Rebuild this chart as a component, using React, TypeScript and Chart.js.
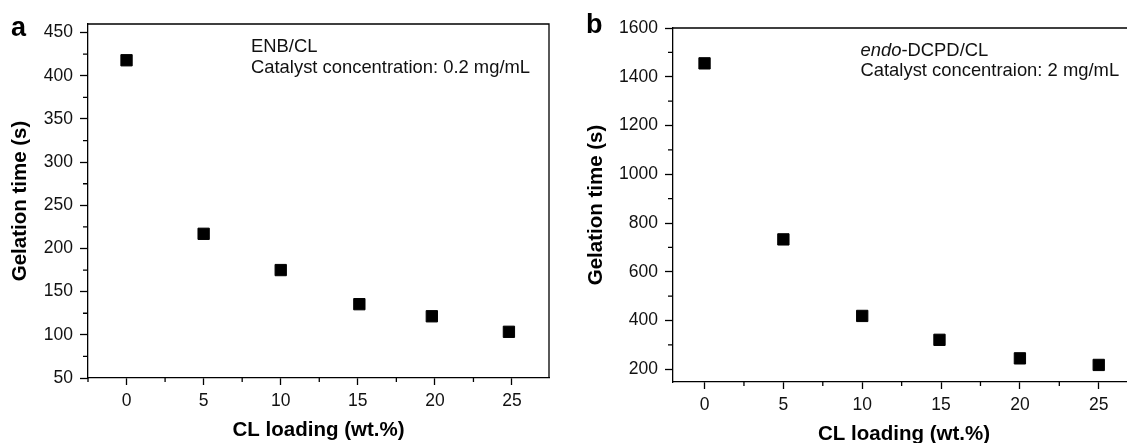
import React, { useEffect, useRef } from "react";
import { Chart, registerables } from "chart.js";
Chart.register(...registerables);

// ---------- data ----------
const loadingA = [0, 5, 10, 15.1, 19.8, 24.8];
const gelationA = [418, 217, 175, 135.5, 121.5, 103.5];
const loadingB = [0, 5, 10, 14.9, 20, 25];
const gelationB = [1455, 733, 419, 321, 245, 218];

const xMajorTicks = [0, 5, 10, 15, 20, 25];
const xMinorTicks = [-2.5, 2.5, 7.5, 12.5, 17.5, 22.5];
const yMajorTicksA = [50, 100, 150, 200, 250, 300, 350, 400, 450];
const yMinorTicksA = [75, 125, 175, 225, 275, 325, 375, 425];
const yMajorTicksB = [200, 400, 600, 800, 1000, 1200, 1400, 1600];
const yMinorTicksB = [300, 500, 700, 900, 1100, 1300, 1500];

const xTitle = "CL loading (wt.%)";
const yTitle = "Gelation time (s)";
const annotA1 = "ENB/CL";
const annotA2 = "Catalyst concentration: 0.2 mg/mL";
const annotB1Italic = "endo";
const annotB1 = "-DCPD/CL";
const annotB2 = "Catalyst concentraion: 2 mg/mL";

const FONT = "'Liberation Sans', Arial, Helvetica, sans-serif";
const INK = "#111";
const TICK_SIZE = 17.5;
const TITLE_SIZE = 20.5;
const ANNOT_SIZE = 18.4;

type PanelCfg = {
  width: number;
  height: number;
  xs: number[];
  ys: number[];
  xMin: number;
  xMax: number;
  yMin: number;
  yMax: number;
  yMajor: number[];
  yMinor: number[];
  yAxisWidth: number;
  xAxisHeight: number;
  padTop: number;
  padRight: number;
  yTitlePad: number;
  xTitlePad: number;
  label: string;
  labelX: number;
  labelY: number;
  drawAnnot: (ctx: CanvasRenderingContext2D, area: any) => void;
};

function makeChart(canvas: HTMLCanvasElement, cfg: PanelCfg) {
  const framePlugin = {
    id: "frameAndMinor",
    afterDraw(chart: any) {
      const ctx: CanvasRenderingContext2D = chart.ctx;
      const { left, right, top, bottom } = chart.chartArea;
      const xs = chart.scales.x;
      const ys = chart.scales.y;
      ctx.save();
      ctx.strokeStyle = "#000";
      ctx.lineWidth = 1.3;
      // frame top & right
      ctx.beginPath();
      ctx.moveTo(left, top);
      ctx.lineTo(right, top);
      ctx.lineTo(right, bottom);
      ctx.stroke();
      // minor ticks
      ctx.beginPath();
      for (const v of xMinorTicks) {
        if (v < cfg.xMin - 1e-6 || v > cfg.xMax + 1e-6) continue;
        const px = xs.getPixelForValue(v);
        ctx.moveTo(px, bottom);
        ctx.lineTo(px, bottom + 4);
      }
      for (const v of cfg.yMinor) {
        const py = ys.getPixelForValue(v);
        ctx.moveTo(left - 5, py);
        ctx.lineTo(left, py);
      }
      ctx.stroke();
      // panel label
      ctx.fillStyle = "#000";
      ctx.font = `bold 27px ${FONT}`;
      ctx.textBaseline = "alphabetic";
      ctx.textAlign = "left";
      ctx.fillText(cfg.label, cfg.labelX, cfg.labelY);
      // annotation
      cfg.drawAnnot(ctx, chart.chartArea);
      ctx.restore();
    },
  };

  return new Chart(canvas, {
    type: "scatter",
    data: {
      datasets: [
        {
          data: cfg.xs.map((x, i) => ({ x, y: cfg.ys[i] })),
          pointStyle: "rect",
          pointRadius: 8,
          backgroundColor: "#000",
          borderColor: "#000",
          borderWidth: 1,
          showLine: false,
        },
      ],
    },
    options: {
      responsive: false,
      animation: false,
      events: [],
      layout: { padding: { top: cfg.padTop, right: cfg.padRight, left: 0, bottom: 0 } },
      plugins: { legend: { display: false }, tooltip: { enabled: false } },
      scales: {
        x: {
          type: "linear",
          min: cfg.xMin,
          max: cfg.xMax,
          afterBuildTicks: (s: any) => {
            s.ticks = xMajorTicks.map((v) => ({ value: v }));
          },
          afterFit: (s: any) => {
            s.height = cfg.xAxisHeight;
          },
          ticks: {
            autoSkip: false,
            maxRotation: 0,
            padding: 6,
            color: INK,
            font: { family: FONT, size: TICK_SIZE },
            callback: (v: any) => `${v}`,
          },
          grid: {
            display: true,
            drawOnChartArea: false,
            drawTicks: true,
            tickLength: 7,
            tickColor: "#000",
            tickWidth: 1.3,
          },
          border: { display: true, color: "#000", width: 1.3 },
          title: {
            display: true,
            text: xTitle,
            color: "#000",
            font: { family: FONT, size: TITLE_SIZE, weight: "bold" },
            padding: { top: cfg.xTitlePad, bottom: 0 },
          },
        },
        y: {
          type: "linear",
          min: cfg.yMin,
          max: cfg.yMax,
          afterBuildTicks: (s: any) => {
            s.ticks = cfg.yMajor.map((v) => ({ value: v }));
          },
          afterFit: (s: any) => {
            s.width = cfg.yAxisWidth;
          },
          ticks: {
            autoSkip: false,
            padding: 7,
            color: INK,
            font: { family: FONT, size: TICK_SIZE },
            callback: (v: any) => `${v}`,
          },
          grid: {
            display: true,
            drawOnChartArea: false,
            drawTicks: true,
            tickLength: 8,
            tickColor: "#000",
            tickWidth: 1.3,
          },
          border: { display: true, color: "#000", width: 1.3 },
          title: {
            display: true,
            text: yTitle,
            color: "#000",
            font: { family: FONT, size: TITLE_SIZE, weight: "bold" },
            padding: { top: cfg.yTitlePad, bottom: 0 },
          },
        },
      },
    },
    plugins: [framePlugin],
  } as any);
}

const panelA: PanelCfg = {
  width: 560,
  height: 443,
  xs: loadingA,
  ys: gelationA,
  xMin: -2.5,
  xMax: 27.4,
  yMin: 50,
  yMax: 460,
  yMajor: yMajorTicksA,
  yMinor: yMinorTicksA,
  yAxisWidth: 88,
  xAxisHeight: 65,
  padTop: 24,
  padRight: 11,
  yTitlePad: 8.5,
  xTitlePad: 0.5,
  label: "a",
  labelX: 11,
  labelY: 36,
  drawAnnot: (ctx) => {
    ctx.fillStyle = INK;
    ctx.font = `${ANNOT_SIZE}px ${FONT}`;
    ctx.fillText(annotA1, 251, 52);
    ctx.fillText(annotA2, 251, 73);
  },
};

const panelB: PanelCfg = {
  width: 590,
  height: 447,
  xs: loadingB,
  ys: gelationB,
  xMin: -2,
  xMax: 27.3,
  yMin: 148,
  yMax: 1600,
  yMajor: yMajorTicksB,
  yMinor: yMinorTicksB,
  yAxisWidth: 113,
  xAxisHeight: 65,
  padTop: 28,
  padRight: 15,
  yTitlePad: 24.5,
  xTitlePad: 1,
  label: "b",
  labelX: 26,
  labelY: 32.5,
  drawAnnot: (ctx) => {
    ctx.fillStyle = INK;
    const x0 = 300.5;
    ctx.font = `italic ${ANNOT_SIZE}px ${FONT}`;
    ctx.fillText(annotB1Italic, x0, 56);
    const w = ctx.measureText(annotB1Italic).width;
    ctx.font = `${ANNOT_SIZE}px ${FONT}`;
    ctx.fillText(annotB1, x0 + w, 56);
    ctx.fillText(annotB2, x0, 76);
  },
};

function Panel({ cfg, left }: { cfg: PanelCfg; left: number }) {
  const ref = useRef<HTMLCanvasElement | null>(null);
  useEffect(() => {
    if (!ref.current) return;
    const chart = makeChart(ref.current, cfg);
    return () => chart.destroy();
  }, [cfg]);
  return (
    <canvas
      ref={ref}
      width={cfg.width}
      height={cfg.height}
      style={{
        position: "absolute",
        left,
        top: 0,
        width: cfg.width,
        height: cfg.height,
        display: "block",
      }}
    />
  );
}

export default function App() {
  return (
    <div
      style={{
        position: "absolute",
        left: 0,
        top: 0,
        width: 1127,
        height: 443,
        overflow: "hidden",
        background: "#fff",
      }}
    >
      <Panel cfg={panelA} left={0} />
      <Panel cfg={panelB} left={560} />
    </div>
  );
}
